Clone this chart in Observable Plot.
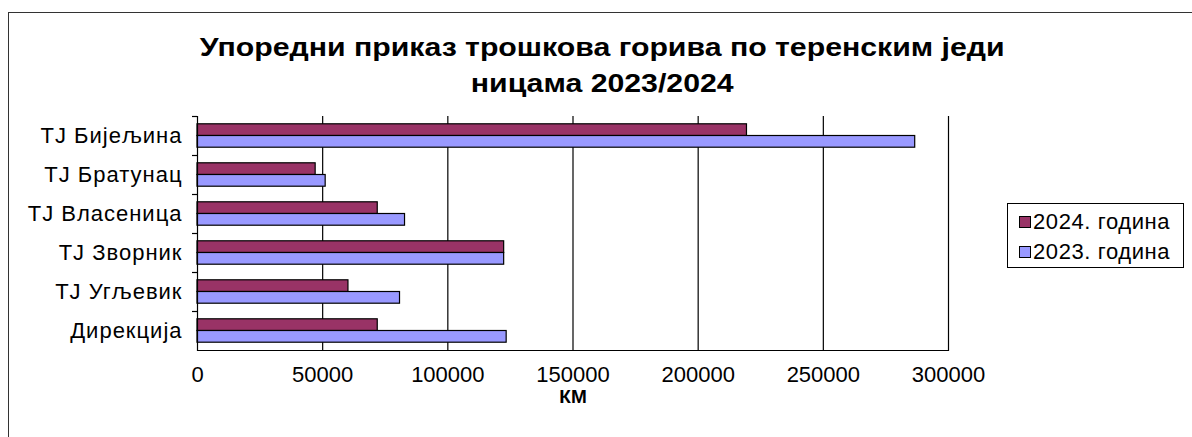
<!DOCTYPE html>
<html><head><meta charset="utf-8">
<script src="https://cdn.jsdelivr.net/npm/d3@7"></script>
<script src="https://cdn.jsdelivr.net/npm/@observablehq/plot@0.6"></script>
<style>
body{margin:0;background:#fff;font-family:"Liberation Sans",Arial,sans-serif}
#wrap{position:relative;width:1192px;height:437px;overflow:hidden;background:#fff}
#border{position:absolute;left:8px;top:12px;width:1210px;height:460px;border:1.5px solid #333;box-sizing:border-box;pointer-events:none}
#title{position:absolute;left:0;top:29px;width:1204px;text-align:center;font-weight:bold;font-size:25px;line-height:36px;color:#000;transform:scaleX(1.21);transform-origin:601px 0}
#legend{position:absolute;left:1007px;top:203px;width:177px;height:65px;border:1.5px solid #000;box-sizing:border-box;padding-top:3px}
.row{display:flex;align-items:center;height:30px;padding-left:11px;font-size:22px;letter-spacing:0.6px;color:#000}
.sw{width:12px;height:12px;border:1px solid #000;margin-right:2px;box-sizing:border-box}
#chart{position:absolute;left:0;top:0}
#chart g[aria-label="y-axis tick label"] text{letter-spacing:1px}
</style></head>
<body>
<div id="wrap">
  <div id="chart"></div>
  <div id="title">Упоредни приказ трошкова горива по теренским једи<br>ницама 2023/2024</div>
  <div id="legend"></div>
  <div id="border"></div>
</div>
<script>
const categories = ["TJ Бијељина", "TJ Братунац", "TJ Власеница", "TJ Зворник", "TJ Угљевик", "Дирекција"];
const values2024 = [219500, 47200, 72000, 122500, 60300, 72000];
const values2023 = [286700, 51200, 82900, 122500, 80900, 123500];
const seriesNames = ["2024. година", "2023. година"];
const seriesColors = ["#993366", "#9999FF"];
const xTicks = [0, 50000, 100000, 150000, 200000, 250000, 300000];
const xLabel = "КМ";

const W = 1192, H = 437, mt = 116, mb = 87, ml = 197, mr = 244;
const step = (H - mt - mb) / categories.length;
const outer = step * 0.2, half = step / 2;

const d2024 = categories.map((c, i) => ({cat: c, v: values2024[i]}));
const d2023 = categories.map((c, i) => ({cat: c, v: values2023[i]}));

const chart = Plot.plot({
  width: W, height: H,
  marginTop: mt, marginBottom: mb, marginLeft: ml, marginRight: mr,
  style: {fontFamily: '"Liberation Sans", Arial, sans-serif', color: "#000", background: "transparent"},
  x: {domain: [0, 300000]},
  y: {domain: categories, padding: 0},
  marks: [
    Plot.ruleX(xTicks.slice(1), {stroke: "#000", strokeWidth: 1.2}),
    Plot.barX(d2024, {y: "cat", x: "v", fill: seriesColors[0], stroke: "#000", strokeWidth: 1.2, insetTop: outer, insetBottom: half}),
    Plot.barX(d2023, {y: "cat", x: "v", fill: seriesColors[1], stroke: "#000", strokeWidth: 1.2, insetTop: half, insetBottom: outer}),
    Plot.ruleX([0], {stroke: "#000", strokeWidth: 1.2}),
    Plot.ruleY(categories, {y: d => d, dy: -half, x1: -2000, x2: 0, stroke: "#000", strokeWidth: 1.2, clip: false}),
    Plot.frame({anchor: "bottom", stroke: "#000", strokeWidth: 1.2}),
    Plot.axisX({ticks: xTicks, tickSize: 0, tickPadding: 16, fontSize: 22, tickFormat: d => String(d), label: null}),
    Plot.axisY({tickSize: 0, tickPadding: 15, fontSize: 22, label: null}),
    Plot.text([xLabel], {x: () => 150000, frameAnchor: "bottom", lineAnchor: "top", dy: 39, fontSize: 19, fontWeight: "bold", text: d => d})
  ]
});
document.getElementById("chart").appendChild(chart);

const leg = document.getElementById("legend");
seriesNames.forEach((n, i) => {
  const r = document.createElement("div"); r.className = "row";
  const s = document.createElement("div"); s.className = "sw"; s.style.background = seriesColors[i];
  const t = document.createElement("span"); t.textContent = n;
  r.appendChild(s); r.appendChild(t); leg.appendChild(r);
});
</script>
</body></html>
